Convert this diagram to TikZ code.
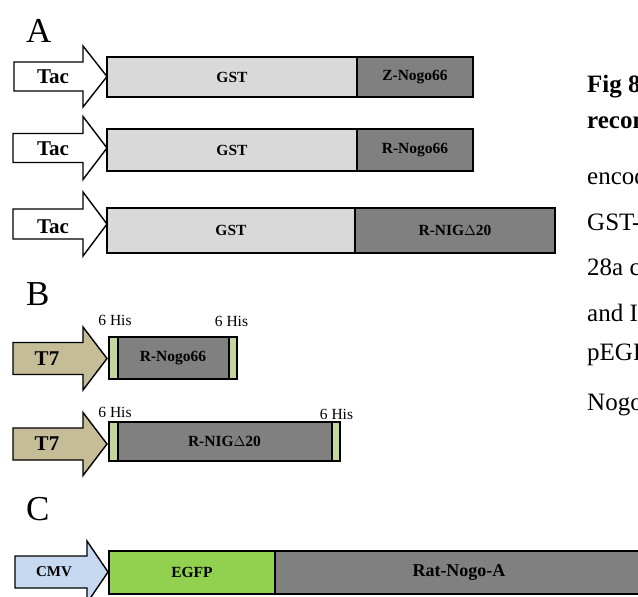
\documentclass[tikz,border=0pt]{standalone}
\usepackage{fontspec}
\setmainfont{Liberation Serif}
\definecolor{gstgray}{HTML}{D9D9D9}
\definecolor{nogogray}{HTML}{808080}
\definecolor{hisgreen}{HTML}{C3D69B}
\definecolor{egfpgreen}{HTML}{92D050}
\definecolor{promotan}{HTML}{C4BD97}
\definecolor{cmvblue}{HTML}{C6D9F1}
\tikzset{
  seg/.style={draw=black, line width=1.5pt, inner sep=0pt, outer sep=0pt, anchor=north west,
    font=\bfseries\fontsize{15.5}{16}\selectfont},
  promo/.style={draw=black, line width=1.4pt, line join=miter},
  promotext/.style={inner sep=0pt, font=\bfseries\fontsize{21}{22}\selectfont},
  panel/.style={font=\fontsize{35}{36}\selectfont, anchor=base west, inner sep=0pt},
  his/.style={font=\fontsize{15.5}{16}\selectfont, anchor=base, inner sep=0pt},
  captext/.style={font=\fontsize{25}{26}\selectfont, anchor=base west, inner sep=0pt},
}
% #1 fill, #2 y centre, #3 left x, #4 neck x, #5 tip x, #6 shaft half, #7 head half
\newcommand\blockarrow[7]{%
  \filldraw[promo, fill=#1] (#3,#2-#6) -- (#4,#2-#6) -- (#4,#2-#7) -- (#5,#2)
    -- (#4,#2+#7) -- (#4,#2+#6) -- (#3,#2+#6) -- cycle;}
\begin{document}
\begin{tikzpicture}[x=1pt,y=-1pt]
\useasboundingbox (0,0) rectangle (638,597);
\clip (0,0) rectangle (638,597);

% ---------- panel labels ----------
\node[panel] (labA) at (26,42) {A};
\node[panel] (labB) at (26,305) {B};
\node[panel] (labC) at (26,520) {C};

% ---------- A ----------
\blockarrow{white}{76.5}{14}{83}{107}{14.5}{30.5}
\node[promotext] (tac1) at (53,77) {Tac};
\node[seg, fill=gstgray, minimum width=250pt, minimum height=40pt] (gst1) at (107,57) {GST};
\node[seg, fill=nogogray, minimum width=116pt, minimum height=40pt] (zn) at (357,57) {Z-Nogo66};

\blockarrow{white}{148}{13}{83}{107}{14.5}{31.5}
\node[promotext] (tac2) at (53,149) {Tac};
\node[seg, fill=gstgray, minimum width=250pt, minimum height=42pt] (gst2) at (107,129) {GST};
\node[seg, fill=nogogray, minimum width=116pt, minimum height=42pt] (rn) at (357,129) {R-Nogo66};

\blockarrow{white}{224}{13}{83}{107}{15}{32}
\node[promotext] (tac3) at (53,227) {Tac};
\node[seg, fill=gstgray, minimum width=248pt, minimum height=45pt] (gst3) at (107,208) {GST};
\node[seg, fill=nogogray, minimum width=200pt, minimum height=45pt] (rnig) at (355,208) {R-NIG$\Delta$20};

% ---------- B ----------
\blockarrow{promotan}{358.5}{13}{83}{107}{16}{31.5}
\node[promotext] (t71) at (47,359) {T7};
\node[seg, fill=nogogray, minimum width=128pt, minimum height=42pt] (brn) at (109,337) {R-Nogo66};
\node[seg, fill=hisgreen, minimum width=9pt, minimum height=42pt] (h1l) at (109,337) {};
\node[seg, fill=hisgreen, minimum width=8pt, minimum height=42pt] (h1r) at (229,337) {};
\node[his] (his1l) at (115,325) {6 His};
\node[his] (his1r) at (231.5,326) {6 His};

\blockarrow{promotan}{444}{13}{83}{107}{16}{31.5}
\node[promotext] (t72) at (47,444) {T7};
\node[seg, fill=nogogray, minimum width=231pt, minimum height=39pt] (bnig) at (109,422) {R-NIG$\Delta$20};
\node[seg, fill=hisgreen, minimum width=9pt, minimum height=39pt] (h2l) at (109,422) {};
\node[seg, fill=hisgreen, minimum width=8pt, minimum height=39pt] (h2r) at (332,422) {};
\node[his] (his2l) at (115,417) {6 His};
\node[his] (his2r) at (336.5,419) {6 His};

% ---------- C ----------
\blockarrow{cmvblue}{572}{15}{87}{108}{16}{31}
\node[promotext, font=\bfseries\fontsize{15}{16}\selectfont] (cmv) at (54,572) {CMV};
\node[seg, fill=egfpgreen, minimum width=166pt, minimum height=43pt] (egfp) at (109,551) {EGFP};
\node[seg, fill=nogogray, minimum width=368pt, minimum height=43pt,
      font=\bfseries\fontsize{18}{19}\selectfont] (ratnogo) at (275,551) {Rat-Nogo-A};

% ---------- caption (cut at the right edge, as in the reference) ----------
\node[captext, font=\bfseries\fontsize{25}{26}\selectfont] (c1) at (587,92) {Fig 8};
\node[captext, font=\bfseries\fontsize{25}{26}\selectfont] (c2) at (587,128) {recom};
\node[captext] (c3) at (587,184) {encod};
\node[captext] (c4) at (587,230) {GST-};
\node[captext] (c5) at (587,275) {28a c};
\node[captext] (c6) at (587,321) {and I};
\node[captext] (c7) at (587,360) {pEGF};
\node[captext] (c8) at (587,410) {Nogo};
\end{tikzpicture}
\end{document}
